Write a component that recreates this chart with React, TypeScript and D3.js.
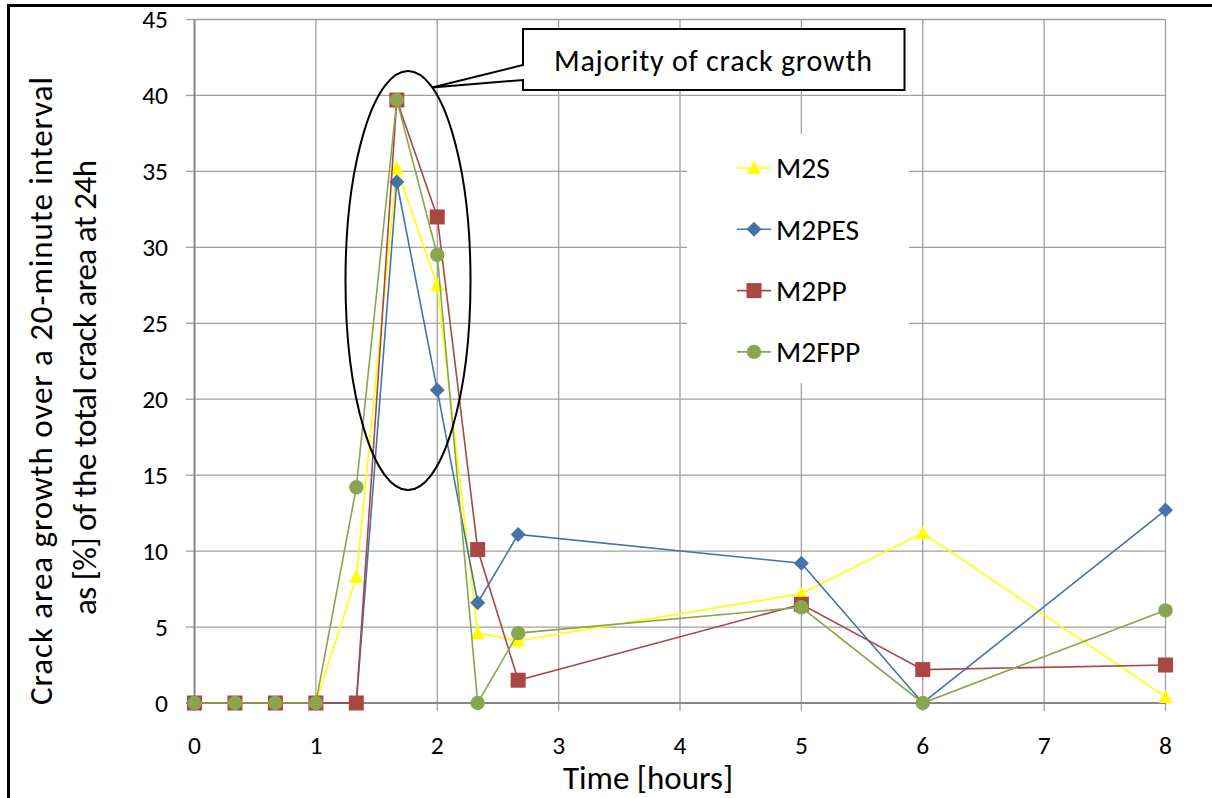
import React from "react";
import * as d3 from "d3";

const timeHours = [0, 1 / 3, 2 / 3, 1, 4 / 3, 5 / 3, 2, 7 / 3, 8 / 3, 5, 6, 8];
const m2s = [0, 0, 0, 0, 8.3, 35.2, 27.5, 4.6, 4.1, 7.2, 11.2, 0.4];
const m2pes = [0, 0, 0, 0, 0, 34.3, 20.6, 6.6, 11.1, 9.2, 0, 12.7];
const m2pp = [0, 0, 0, 0, 0, 39.7, 32.0, 10.1, 1.5, 6.5, 2.2, 2.5];
const m2fpp = [0, 0, 0, 0, 14.2, 39.7, 29.5, 0, 4.6, 6.3, 0, 6.1];
const seriesNames = ["M2S", "M2PES", "M2PP", "M2FPP"];
const xTicks = [0, 1, 2, 3, 4, 5, 6, 7, 8];
const yTicks = [0, 5, 10, 15, 20, 25, 30, 35, 40, 45];

const FONT = "Carlito, Lato, 'Open Sans', sans-serif";

const series = [
  { name: seriesNames[0], values: m2s, color: "#FFFF00", marker: "triangle" },
  { name: seriesNames[1], values: m2pes, color: "#4572A7", marker: "diamond" },
  { name: seriesNames[2], values: m2pp, color: "#AA4643", marker: "square" },
  { name: seriesNames[3], values: m2fpp, color: "#89A54E", marker: "circle" },
];

function Marker({ type, x, y, color }: { type: string; x: number; y: number; color: string }) {
  if (type === "square") return <rect x={x - 7.5} y={y - 7.5} width={15} height={15} fill={color} />;
  if (type === "circle") return <circle cx={x} cy={y} r={7.2} fill={color} />;
  if (type === "diamond")
    return <polygon points={`${x},${y - 7.5} ${x + 7.5},${y} ${x},${y + 7.5} ${x - 7.5},${y}`} fill={color} />;
  return <polygon points={`${x},${y - 7.5} ${x + 7},${y + 6} ${x - 7},${y + 6}`} fill={color} />;
}

export default function App() {
  const W = 1212;
  const H = 798;
  const x = d3.scaleLinear().domain([0, 8]).range([194.5, 1165.5]);
  const y = d3.scaleLinear().domain([0, 45]).range([703, 19.5]);
  const line = d3
    .line<[number, number]>()
    .x((d) => x(d[0]))
    .y((d) => y(d[1]));

  const gridColor = "#A0A0A0";
  const axisColor = "#868686";

  return (
    <div style={{ position: "absolute", left: 0, top: 0 }}>
      <svg width={W} height={H} style={{ display: "block", background: "#fff" }} fontFamily={FONT}>
        {/* outer border */}
        <rect x={8.5} y={5.5} width={W + 20} height={H + 20} fill="none" stroke="#000" strokeWidth={3} />

        {/* horizontal gridlines + y ticks */}
        {yTicks.map((t) => (
          <g key={"y" + t}>
            {t > 0 && <line x1={x(0)} x2={x(8)} y1={y(t)} y2={y(t)} stroke={gridColor} strokeWidth={1.3} />}
            <line x1={186} x2={x(0)} y1={y(t)} y2={y(t)} stroke={gridColor} strokeWidth={1.3} />
            <text x={168} y={y(t)} dy="0.35em" textAnchor="end" fontSize={25.5} fill="#000">
              {t}
            </text>
          </g>
        ))}
        {/* vertical gridlines + x ticks */}
        {xTicks.map((t) => (
          <g key={"x" + t}>
            {t > 0 && <line x1={x(t)} x2={x(t)} y1={y(45)} y2={y(0)} stroke={gridColor} strokeWidth={1.3} />}
            <line x1={x(t)} x2={x(t)} y1={y(0)} y2={711} stroke={gridColor} strokeWidth={1.3} />
            <text x={x(t)} y={754} textAnchor="middle" fontSize={25.5} fill="#000">
              {t}
            </text>
          </g>
        ))}
        {/* axes */}
        <line x1={x(0)} x2={x(0)} y1={y(45)} y2={711} stroke={axisColor} strokeWidth={2} />
        <line x1={186} x2={x(8)} y1={y(0)} y2={y(0)} stroke={axisColor} strokeWidth={2.2} />

        {/* legend background */}
        <rect x={687} y={134} width={222} height={249} fill="#fff" />

        {/* callout box */}
        <path
          d={`M523,29 H904.5 V90 H523 V80 L432,87.5 L523,65 Z`}
          fill="#fff"
          stroke="#000"
          strokeWidth={2}
        />
        <text
          x={554}
          y={60}
          dy="0.35em"
          fontSize={30}
          textLength={318}
          lengthAdjust="spacing"
          fill="#000"
        >
          Majority of crack growth
        </text>

        {/* series */}
        {series.map((s) => {
          const pts = s.values.map((v, i) => [timeHours[i], v] as [number, number]);
          return (
            <g key={s.name}>
              <path d={line(pts) || ""} fill="none" stroke={s.color} strokeWidth={1.6} />
              {pts.map((p, i) => (
                <Marker key={i} type={s.marker} x={x(p[0])} y={y(p[1])} color={s.color} />
              ))}
            </g>
          );
        })}

        {/* ellipse annotation */}
        <ellipse cx={408} cy={280.5} rx={62.5} ry={209.5} fill="none" stroke="#000" strokeWidth={2} />

        {/* legend */}
        {series.map((s, i) => {
          const ly = 168 + i * 61.3;
          return (
            <g key={"lg" + s.name}>
              <line x1={737} x2={771} y1={ly} y2={ly} stroke={s.color} strokeWidth={1.6} />
              <Marker type={s.marker} x={754} y={ly} color={s.color} />
              <text x={776} y={ly} dy="0.35em" fontSize={29.5} fill="#000">
                {s.name}
              </text>
            </g>
          );
        })}

        {/* axis titles */}
        <text x={648} y={789} textAnchor="middle" fontSize={33} fill="#000">
          Time [hours]
        </text>
        <text
          x={-705}
          y={40}
          transform="rotate(-90)"
          dy="0.35em"
          fontSize={33}
          textLength={628}
          lengthAdjust="spacing"
          fill="#000"
        >
          Crack area growth over a  20-minute interval
        </text>
        <text
          x={-615}
          y={84}
          transform="rotate(-90)"
          dy="0.35em"
          fontSize={33}
          textLength={455}
          lengthAdjust="spacing"
          fill="#000"
        >
          as [%] of the total crack area at 24h
        </text>
      </svg>
    </div>
  );
}
